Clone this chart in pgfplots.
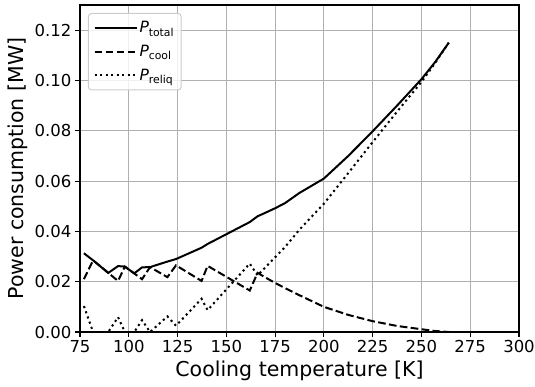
\documentclass[border=0pt]{standalone}
\usepackage{fontspec}
\setmainfont{DejaVu Sans}
\usepackage{pgfplots}
\usepackage{pgfplotstable}
\pgfplotsset{compat=1.18}
\definecolor{gridc}{HTML}{B0B0B0}
\definecolor{legc}{HTML}{CCCCCC}

\pgfplotstableread{
x cool reliq total
77.0 0.0210 0.0103 0.0313
81.7 0.0285 0.0000 0.0285
89.5 0.0235 0.0000 0.0235
94.5 0.0203 0.0059 0.0262
98.0 0.0260 0.0000 0.0260
102.8 0.0233 0.0000 0.0233
106.8 0.0210 0.0047 0.0257
110.9 0.0258 0.0000 0.0258
119.8 0.0218 0.0062 0.0280
124.2 0.0265 0.0025 0.0290
137.3 0.0203 0.0132 0.0335
140.4 0.0263 0.0087 0.0350
162.0 0.0165 0.0272 0.0437
166.0 0.0235 0.0225 0.0460
170.0 0.0217 0.0257 0.0474
175.0 0.0195 0.0297 0.0492
180.0 0.0175 0.0337 0.0512
187.5 0.0146 0.0407 0.0553
200.0 0.0100 0.0510 0.0610
212.5 0.0068 0.0632 0.0700
225.0 0.0043 0.0755 0.0798
237.5 0.0024 0.0876 0.0900
250.0 0.0011 0.0994 0.1005
257.0 0.0004 0.1069 0.1073
264.0 0.0000 0.1150 0.1150
}\data

\begin{document}
\begin{tikzpicture}
\begin{axis}[
  scale only axis, width=439pt, height=327pt,
  xmin=75, xmax=300, ymin=0, ymax=0.13,
  xtick={75,100,125,150,175,200,225,250,275,300},
  ytick={0,0.02,0.04,0.06,0.08,0.10,0.12},
  scaled y ticks=false,
  yticklabel style={/pgf/number format/.cd, fixed, fixed zerofill, precision=2},
  /pgf/number format/assume math mode=true,
  ticklabel style={font=\fontsize{16.5}{16.5}\selectfont},
  tick align=outside, xtick pos=bottom, ytick pos=left,
  major tick length=5pt,
  every tick/.style={black, line width=1.1pt},
  axis line style={line width=1.1pt},
  grid=major, grid style={gridc, line width=1.1pt},
  xlabel={Cooling temperature [K]},
  ylabel={Power consumption [MW]},
  every axis x label/.style={at={(axis description cs:0.5,0)}, anchor=north, yshift=-29pt, inner sep=0pt, font=\fontsize{20.5}{20.5}\selectfont},
  every axis y label/.style={at={(axis description cs:0,0.5)}, xshift=-52pt, rotate=90, anchor=south, inner sep=0pt, font=\fontsize{20.5}{20.5}\selectfont},
  legend style={at={(0,1)}, anchor=north west, xshift=8pt, yshift=-8pt, draw=legc, line width=1pt, rounded corners=3pt, fill=white, fill opacity=0.8, text opacity=1, draw opacity=1, font=\fontsize{15.5}{15.5}\selectfont, row sep=7pt, inner xsep=5pt, inner ysep=6pt},
  legend cell align=left,
  legend image code/.code={\draw[#1] (0pt,0pt) -- (33pt,0pt); \path (0pt,0pt) -- (42pt,0pt);},
]
\addplot[black, line width=2pt] table[x=x, y=total] {\data};
\addlegendentry{\textit{P}\textsubscript{total}}
\addplot[black, line width=2pt, dash pattern=on 7.7pt off 3.3pt] table[x=x, y=cool] {\data};
\addlegendentry{\textit{P}\textsubscript{cool}}
\addplot[black, line width=2pt, dash pattern=on 2.1pt off 3.4pt] table[x=x, y=reliq] {\data};
\addlegendentry{\textit{P}\textsubscript{reliq}}
\end{axis}
\pgfresetboundingbox
\path[use as bounding box] ([shift={(-80pt,-54pt)}]current axis.south west) rectangle ([shift={(16pt,5pt)}]current axis.north east);
\end{tikzpicture}
\end{document}
